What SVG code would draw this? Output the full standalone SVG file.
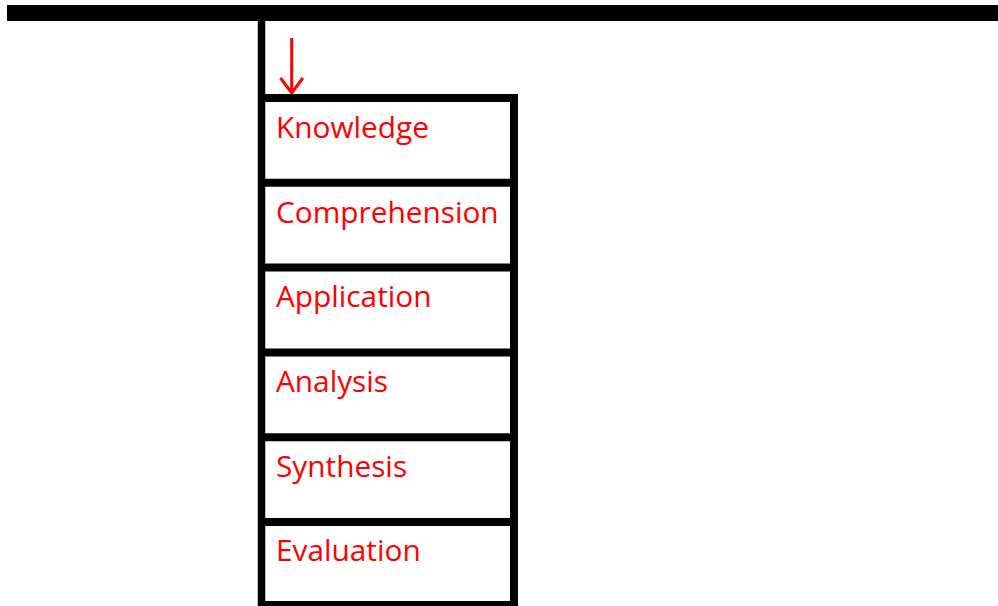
<svg xmlns="http://www.w3.org/2000/svg" width="998" height="606" viewBox="0 0 998 606">
  <style>
    .rule { stroke: #000; fill: none; }
    .lbl { font-family: "Open Sans", "Noto Sans", "Liberation Sans", sans-serif; font-size: 29.8px; fill: #ff0000; }
  </style>
  <rect width="998" height="606" fill="#fff"/>

  <!-- top bar and the stem that holds the stack -->
  <g id="frame">
    <rect x="7" y="5" width="991" height="16" fill="#000"/>
    <line class="rule" x1="261.5" y1="21" x2="261.5" y2="606" stroke-width="7.5"/>
  </g>

  <!-- the downward arrow into the stack -->
  <g id="connectors">
    <line x1="291.7" y1="38" x2="291.7" y2="90" stroke="#ff0000" stroke-width="3"/>
    <path d="M280.5,78 L291.7,93 L302.9,78" fill="none" stroke="#ff0000" stroke-width="3"/>
  </g>

  <!-- stacked levels -->
  <g id="stack">
    <line class="rule" x1="514" y1="94" x2="514" y2="606" stroke-width="8"/>
  </g>
  <g id="knowledge">
    <line class="rule" x1="258" y1="98" x2="518" y2="98" stroke-width="8"/>
    <text class="lbl" x="276" y="138">Knowledge</text>
  </g>
  <g id="comprehension">
    <line class="rule" x1="258" y1="182.8" x2="518" y2="182.8" stroke-width="8"/>
    <text class="lbl" x="276" y="222.5">Comprehension</text>
  </g>
  <g id="application">
    <line class="rule" x1="258" y1="267.6" x2="518" y2="267.6" stroke-width="8"/>
    <text class="lbl" x="276" y="307.3">Application</text>
  </g>
  <g id="analysis">
    <line class="rule" x1="258" y1="352.4" x2="518" y2="352.4" stroke-width="8"/>
    <text class="lbl" x="276" y="392">Analysis</text>
  </g>
  <g id="synthesis">
    <line class="rule" x1="258" y1="437.2" x2="518" y2="437.2" stroke-width="8"/>
    <text class="lbl" x="276" y="476.5">Synthesis</text>
  </g>
  <g id="evaluation">
    <line class="rule" x1="258" y1="522" x2="518" y2="522" stroke-width="8"/>
    <line class="rule" x1="258" y1="605" x2="518" y2="605" stroke-width="8"/>
    <text class="lbl" x="276" y="560.5">Evaluation</text>
  </g>
</svg>
